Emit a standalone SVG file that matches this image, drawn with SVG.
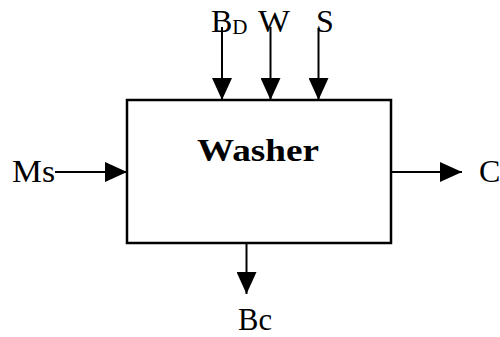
<svg xmlns="http://www.w3.org/2000/svg" width="500" height="337" viewBox="0 0 500 337">
<defs>
<style>
.lbl{font-family:"Liberation Serif","Times New Roman",serif;font-size:32px;fill:#000}
.bold{font-weight:bold}
.box{fill:#fff;stroke:#000;stroke-width:2.5}
.conn{stroke:#000;stroke-width:2;fill:none;marker-end:url(#arr)}
</style>
<marker id="arr" viewBox="0 0 22 20" refX="22" refY="10" markerWidth="22" markerHeight="20" orient="auto" markerUnits="userSpaceOnUse">
<path d="M0,0 L22,10 L0,20 z" fill="#000"/>
</marker>
</defs>
<g id="washer">
<rect class="box" x="127" y="100" width="264" height="143"/>
<text class="lbl bold" x="197" y="161" textLength="122" lengthAdjust="spacingAndGlyphs">Washer</text>
</g>
<g id="BD"><text class="lbl" x="211" y="32">B<tspan font-size="21" y="34">D</tspan></text></g>
<g id="W"><text class="lbl" x="258" y="32" textLength="32" lengthAdjust="spacingAndGlyphs">W</text></g>
<g id="S"><text class="lbl" x="316" y="32">S</text></g>
<g id="Ms"><text class="lbl" x="12" y="182" textLength="43" lengthAdjust="spacingAndGlyphs">Ms</text></g>
<g id="C"><text class="lbl" x="479" y="182">C</text></g>
<g id="Bc"><text class="lbl" x="238" y="330" textLength="34" lengthAdjust="spacingAndGlyphs">Bc</text></g>
<g id="connectors">
<line class="conn" x1="222" y1="27" x2="222" y2="100"/>
<line class="conn" x1="270.5" y1="27" x2="270.5" y2="100"/>
<line class="conn" x1="318.5" y1="28" x2="318.5" y2="100"/>
<line class="conn" x1="55" y1="172" x2="127" y2="172"/>
<line class="conn" x1="391" y1="172" x2="462" y2="172"/>
<line class="conn" x1="246.5" y1="243" x2="246.5" y2="294"/>
</g>
</svg>
